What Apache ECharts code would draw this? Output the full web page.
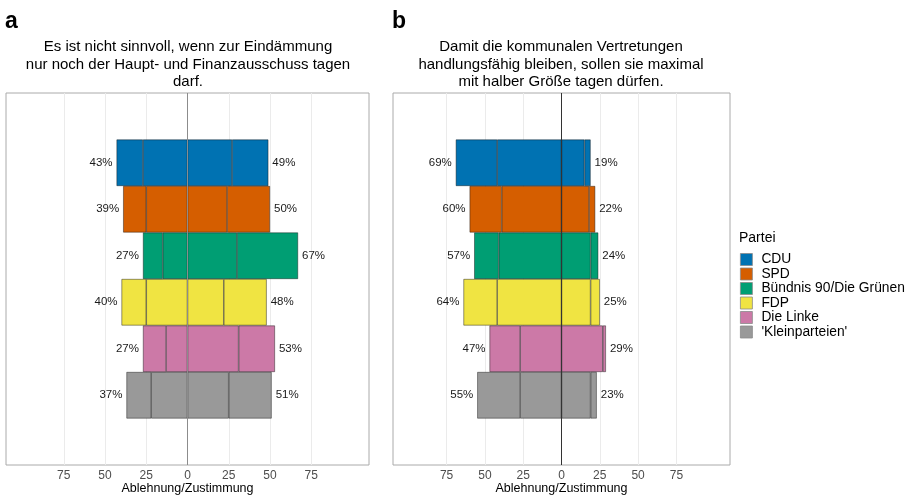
<!DOCTYPE html>
<html>
<head>
<meta charset="utf-8">
<script src="https://cdn.jsdelivr.net/npm/echarts@6/dist/echarts.min.js"></script>
<style>
  html, body { margin: 0; padding: 0; background: #fff; }
  #chart { width: 913px; height: 495px; }
</style>
</head>
<body>
<div id="chart"></div>
<script>
// Parteien und Farben
const parties = ['CDU', 'SPD', 'Bündnis 90/Die Grünen', 'FDP', 'Die Linke', "'Kleinparteien'"]
const partyColors = ['#0072B2', '#D55E00', '#009E73', '#F0E442', '#CC79A7', '#999999']

// Panel a: Ablehnung (stark / eher), Zustimmung (eher / stark) in Prozent
const aNegStrong = [16, 14, 12, 15, 14, 15]
const aNegWeak = [27, 25, 15, 25, 13, 22]
const aPosWeak = [27, 24, 30, 22, 31, 25]
const aPosStrong = [22, 26, 37, 26, 22, 26]

// Panel b
const bNegStrong = [27, 21, 16, 22, 20, 28]
const bNegWeak = [42, 39, 41, 42, 27, 27]
const bPosWeak = [15, 18, 19, 19, 27, 19]
const bPosStrong = [4, 4, 5, 6, 2, 4]

const tickValues = [-75, -50, -25, 0, 25, 50, 75]
const titleA = 'Es ist nicht sinnvoll, wenn zur Eindämmung\nnur noch der Haupt- und Finanzausschuss tagen\ndarf.'
const titleB = 'Damit die kommunalen Vertretungen\nhandlungsfähig bleiben, sollen sie maximal\nmit halber Größe tagen dürfen.'
const axisTitle = 'Ablehnung/Zustimmung'

const FONT = 'Liberation Sans, Arial, sans-serif'

// leere Kategorien oben und unten als Abstand
const yCats = [''].concat(parties, [' '])

function items(vals, sign) {
  return [null].concat(vals.map((v, i) => ({
    value: sign * v,
    itemStyle: { color: partyColors[i] }
  })), [null])
}

function sum(a, b) {
  return a.map((v, i) => v + b[i])
}

function panelSeries(idx, negStrong, negWeak, posWeak, posStrong, zeroColor) {
  const negTotal = sum(negStrong, negWeak)
  const posTotal = sum(posWeak, posStrong)
  const base = {
    type: 'bar',
    stack: 'p' + idx,
    xAxisIndex: idx,
    yAxisIndex: idx,
    barCategoryGap: '0%',
    itemStyle: { borderColor: 'rgba(20,20,20,0.75)', borderWidth: 0.6 },
    silent: true,
    animation: false
  }
  const lbl = {
    show: true,
    distance: 4,
    fontFamily: FONT,
    fontSize: 11.5,
    color: '#1a1a1a'
  }
  return [
    Object.assign({}, base, { name: 'nw' + idx, data: items(negWeak, -1) }),
    Object.assign({}, base, {
      name: 'ns' + idx,
      data: items(negStrong, -1),
      label: Object.assign({}, lbl, {
        position: 'left',
        formatter: p => negTotal[p.dataIndex - 1] + '%'
      })
    }),
    Object.assign({}, base, { name: 'pw' + idx, data: items(posWeak, 1) }),
    Object.assign({}, base, {
      name: 'ps' + idx,
      data: items(posStrong, 1),
      label: Object.assign({}, lbl, {
        position: 'right',
        formatter: p => posTotal[p.dataIndex - 1] + '%'
      }),
      markLine: {
        silent: true,
        symbol: ['none', 'none'],
        label: { show: false },
        lineStyle: { color: zeroColor, width: 1, type: 'solid' },
        data: [{ xAxis: 0 }]
      }
    })
  ]
}

function xAxisOpt(idx) {
  return {
    type: 'value',
    gridIndex: idx,
    min: -110,
    max: 110,
    axisLine: { show: false },
    axisTick: { show: false, customValues: tickValues },
    splitLine: { show: true, lineStyle: { color: '#ebebeb', width: 1 } },
    axisLabel: {
      customValues: tickValues,
      formatter: v => String(Math.abs(v)),
      margin: 5,
      fontFamily: FONT,
      fontSize: 12,
      color: '#4d4d4d'
    },
    name: axisTitle,
    nameLocation: 'middle',
    nameGap: 17,
    nameMoveOverlap: false,
    nameTextStyle: { fontFamily: FONT, fontSize: 12.5, color: '#000', verticalAlign: 'top' }
  }
}

function yAxisOpt(idx) {
  return {
    type: 'category',
    gridIndex: idx,
    data: yCats,
    inverse: true,
    axisLine: { show: false },
    axisTick: { show: false },
    axisLabel: { show: false },
    splitLine: { show: false }
  }
}

const chart = echarts.init(document.getElementById('chart'), null, { renderer: 'canvas' })

// leere Serien nur für die Legende
const legendSeries = parties.map((p, i) => ({
  name: p,
  type: 'scatter',
  xAxisIndex: 0,
  yAxisIndex: 0,
  data: [],
  itemStyle: { color: partyColors[i], opacity: 1 }
}))

const titleBase = {
  padding: 0,
  textAlign: 'center',
  textStyle: { fontFamily: FONT, fontSize: 15, fontWeight: 'normal', color: '#000', lineHeight: 17.5 }
}

const gridBase = {
  top: 93,
  height: 372,
  show: true,
  borderColor: '#aaa',
  borderWidth: 1,
  backgroundColor: '#fff',
  containLabel: false,
  outerBoundsMode: 'none'
}

chart.setOption({
  animation: false,
  title: [
    { text: 'a', left: 5, top: 10, padding: 0, textStyle: { fontFamily: FONT, fontSize: 23, fontWeight: 'bold', color: '#000' } },
    { text: 'b', left: 392, top: 10, padding: 0, textStyle: { fontFamily: FONT, fontSize: 23, fontWeight: 'bold', color: '#000' } },
    Object.assign({}, titleBase, { text: titleA, left: 188, top: 38.5 }),
    Object.assign({}, titleBase, { text: titleB, left: 561, top: 38.5 }),
    { text: 'Partei', left: 739, top: 231, padding: 0, textStyle: { fontFamily: FONT, fontSize: 14, fontWeight: 'normal', color: '#000' } }
  ],
  legend: {
    data: parties.map((p, i) => ({
      name: p,
      itemStyle: { color: partyColors[i], opacity: 1, borderColor: '#8a8a8a', borderWidth: 0.8 }
    })),
    orient: 'vertical',
    left: 740,
    top: 252.5,
    padding: 0,
    icon: 'rect',
    itemWidth: 12,
    itemHeight: 12,
    itemGap: 0.5,
    selectedMode: false,
    textStyle: { fontFamily: FONT, fontSize: 13.8, color: '#000', padding: [0, 0, 0, 4], lineHeight: 12 }
  },
  grid: [
    Object.assign({}, gridBase, { left: 6, width: 363 }),
    Object.assign({}, gridBase, { left: 393, width: 337 })
  ],
  xAxis: [xAxisOpt(0), xAxisOpt(1)],
  yAxis: [yAxisOpt(0), yAxisOpt(1)],
  series: legendSeries
    .concat(panelSeries(0, aNegStrong, aNegWeak, aPosWeak, aPosStrong, '#8c8c8c'))
    .concat(panelSeries(1, bNegStrong, bNegWeak, bPosWeak, bPosStrong, '#333'))
})

window.addEventListener('resize', () => {
  chart.resize()
})
</script>
</body>
</html>
